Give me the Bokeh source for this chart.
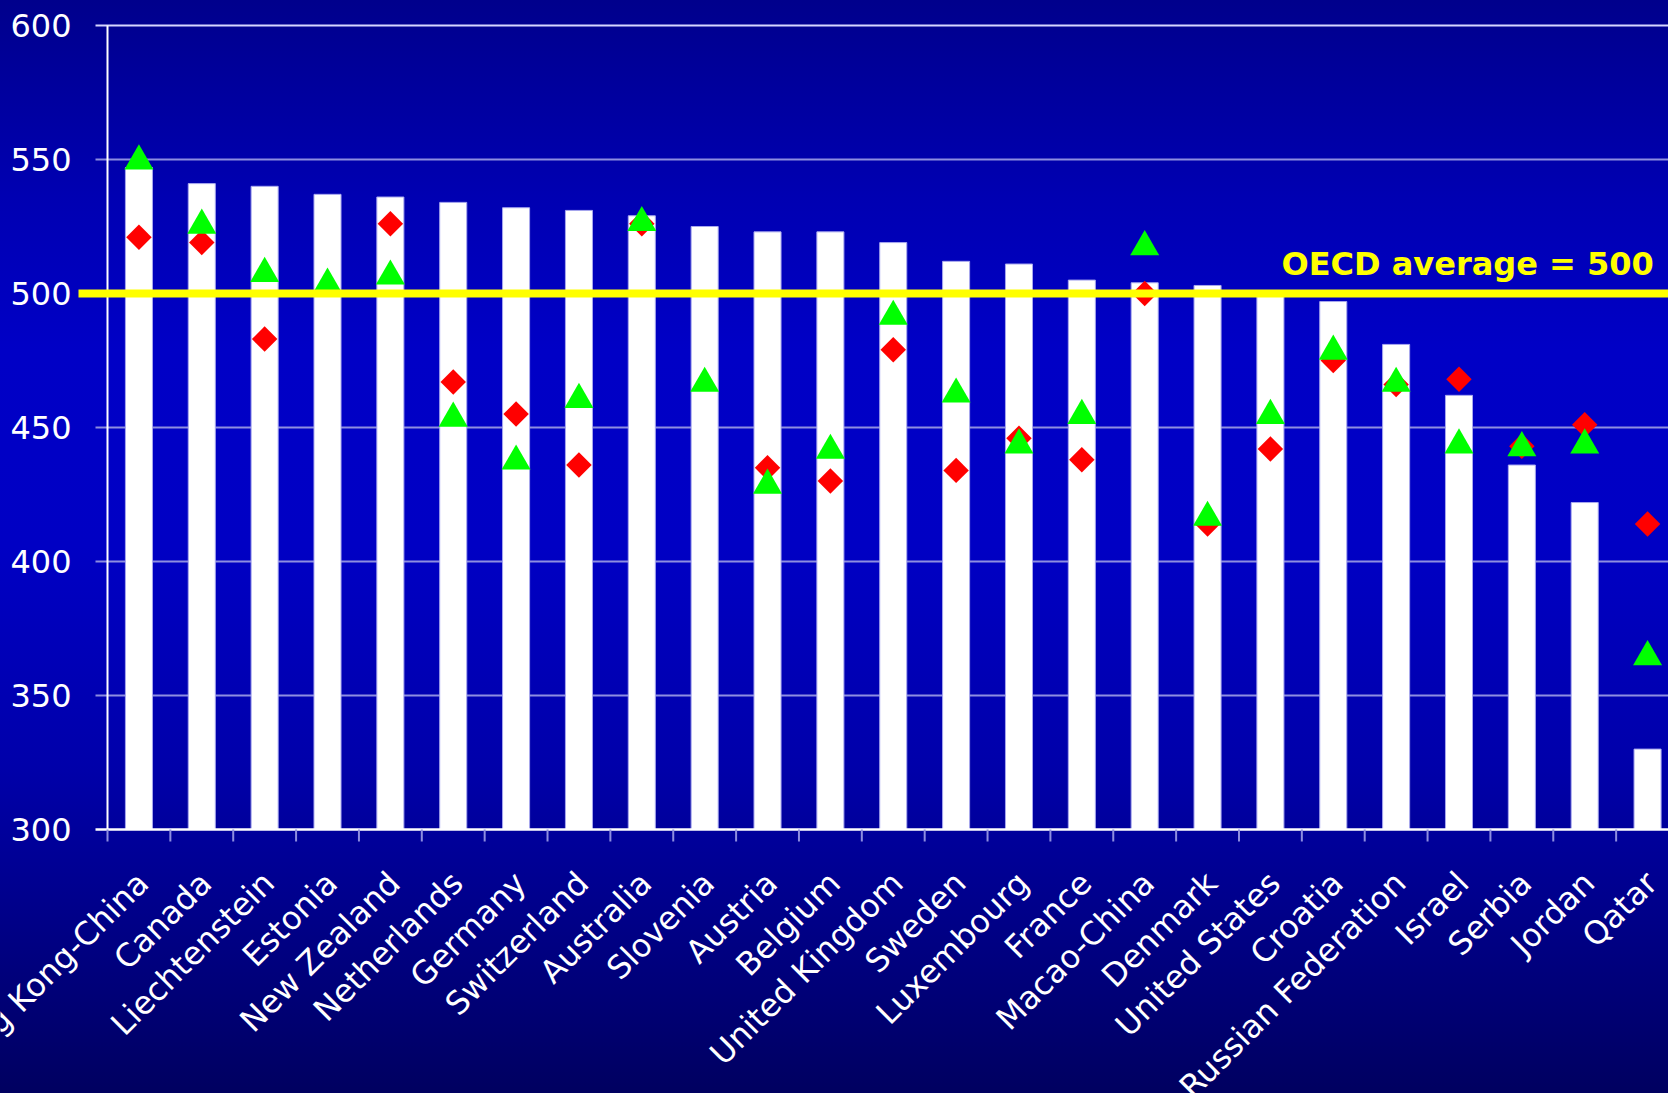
import numpy as np
from bokeh.plotting import figure
from bokeh.models import Range1d, ColumnDataSource
from bokeh.transform import dodge
from bokeh.core.properties import value
from bokeh.embed import file_html
from bokeh.resources import INLINE

# ---------------- data ----------------
countries = ["Hong Kong-China", "Canada", "Liechtenstein", "Estonia", "New Zealand",
             "Netherlands", "Germany", "Switzerland", "Australia", "Slovenia",
             "Austria", "Belgium", "United Kingdom", "Sweden", "Luxembourg",
             "France", "Macao-China", "Denmark", "United States", "Croatia",
             "Russian Federation", "Israel", "Serbia", "Jordan", "Qatar"]
bar_scores = [547, 541, 540, 537, 536, 534, 532, 531, 529, 525, 523, 523, 519,
              512, 511, 505, 504, 503, 500, 497, 481, 462, 436, 422, 330]
diamond_scores = [521, 519, 483, np.nan, 526, 467, 455, 436, 526, np.nan, 435, 430, 479,
                  434, 446, 438, 500, 414, 442, 475, 466, 468, 443, 451, 414]
triangle_scores = [551, 527, 509, 505, 508, 455, 439, 462, 528, 468, 430, 443, 493,
                   464, 445, 456, 519, 418, 456, 480, 468, 445, 444, 445, 366]
y_ticks = [300, 350, 400, 450, 500, 550, 600]
oecd_average = 500
oecd_text = "OECD average = 500"

# ---------------- layout (pixel geometry of the slide) ----------------
W, H = 1668, 1093
PX_X = 62.86          # pixels per category
PX_Y = 2.68           # pixels per score point
AXIS_PX = 107         # x pixel of the value axis (left edge of first category)
TOP_PX = 25           # y pixel of the 600 line
Y_MIN, Y_MAX = y_ticks[0], y_ticks[-1]
TRI_SIZE = 29


def px_to_x(px):
    return -0.5 + (px - AXIS_PX) / PX_X


def py_to_y(py):
    return Y_MAX - (py - TOP_PX) / PX_Y


x_start, x_end = px_to_x(0), px_to_x(W)
tick_len_x = 12 / PX_X
tick_len_y = 12 / PX_Y

FONT = "DejaVu Sans"
LAVENDER = "#8e8ee0"

p = figure(width=W, height=H, x_range=Range1d(x_start, x_end),
           y_range=Range1d(py_to_y(H), py_to_y(0)), output_backend="svg",
           toolbar_location=None, x_axis_location=None, y_axis_location=None,
           min_border=0)
p.background_fill_color = None
p.border_fill_color = None
p.outline_line_color = None
p.grid.visible = False
p.styles = {
    "background": "linear-gradient(to bottom, #00008c 0%, #0000b2 18%, #0000c6 32%, "
                  "#0000c4 50%, #0000aa 70%, #000092 80%, #000060 100%)",
}

idx = np.arange(len(countries))
left_stub = -0.5 - tick_len_x

# gridlines with tick stubs to the left of the axis
grid_y = [t for t in y_ticks if Y_MIN < t < Y_MAX]
p.segment(x0=[left_stub] * len(grid_y), x1=[x_end] * len(grid_y),
          y0=grid_y, y1=grid_y, line_color=LAVENDER, line_width=2)
p.segment(x0=[left_stub], x1=[x_end], y0=[Y_MAX], y1=[Y_MAX],
          line_color="#d6d6ff", line_width=2)

# value-axis tick labels
p.text(x=[px_to_x(71)] * len(y_ticks), y=y_ticks, text=[str(t) for t in y_ticks],
       text_align="right", text_baseline="middle", text_color="white",
       text_font=value(FONT), text_font_size="32px")

# bars
src = ColumnDataSource(dict(x=idx, top=bar_scores,
                            d=np.array(diamond_scores, dtype=float),
                            t=np.array(triangle_scores, dtype=float),
                            name=countries))
p.vbar(x="x", top="top", bottom=Y_MIN, width=0.43, source=src,
       fill_color="white", line_color="#a8a8ee", line_width=1)

# axis lines and category ticks
p.segment(x0=[left_stub], x1=[x_end], y0=[Y_MIN], y1=[Y_MIN],
          line_color="white", line_width=2.5)
p.segment(x0=[-0.5], x1=[-0.5], y0=[Y_MIN], y1=[Y_MAX], line_color="white", line_width=2)
bounds = np.arange(len(countries) + 1) - 0.5
p.segment(x0=bounds, x1=bounds, y0=[Y_MIN] * len(bounds),
          y1=[Y_MIN - tick_len_y] * len(bounds), line_color=LAVENDER, line_width=2)

# category labels
p.text(x="x", y=Y_MIN, text="name", source=src, x_offset=4, y_offset=48,
       angle=np.pi / 4, text_align="right", text_baseline="middle",
       text_color="white", text_font=value(FONT), text_font_size="32px")

# markers (triangle centred on its bounding box, like the original markers)
p.scatter(x="x", y="d", source=src, marker="square", angle=np.pi / 4, size=18,
          fill_color="#ff0000", line_color=None)
tri_shift = -(TRI_SIZE * 0.866 / 6) / PX_Y
p.scatter(x="x", y=dodge("t", tri_shift), source=src, marker="triangle", size=TRI_SIZE,
          fill_color="#00ff00", line_color=None)

# OECD average line and label
p.segment(x0=[px_to_x(78)], x1=[x_end], y0=[oecd_average], y1=[oecd_average],
          line_color="#ffff00", line_width=8)
p.text(x=[px_to_x(1281)], y=[py_to_y(263)], text=[oecd_text], text_color="#ffff00",
       text_font=value(FONT), text_font_style="bold", text_font_size="32px",
       text_align="left", text_baseline="alphabetic")

open("out.html", "w").write(file_html(p, INLINE))
